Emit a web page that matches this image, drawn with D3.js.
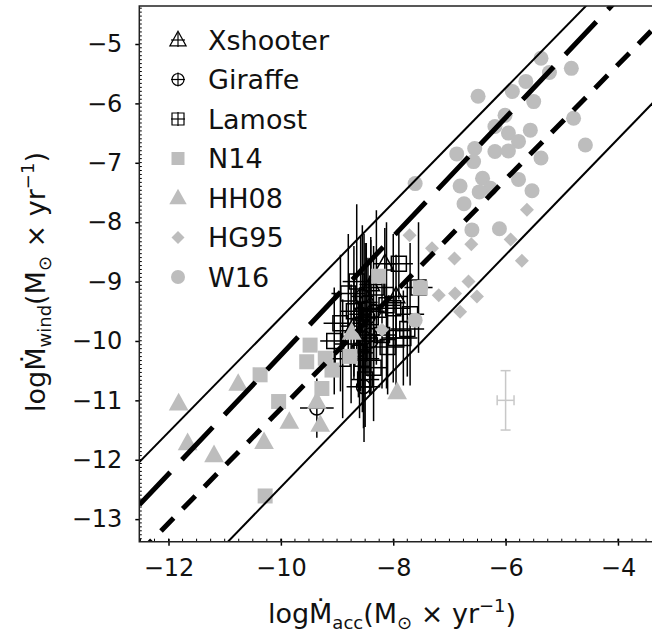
<!DOCTYPE html>
<html>
<head>
<meta charset="utf-8">
<script src="https://cdn.jsdelivr.net/npm/d3@7"></script>
<style>
  body { margin: 0; background: #fff; }
  svg { display: block; font-family: "DejaVu Sans", sans-serif; }
</style>
</head>
<body>
<svg id="chart" width="652" height="637"></svg>
<script>
// ---- data ----
const xTicks = [-12, -10, -8, -6, -4];
const yTicks = [-13, -12, -11, -10, -9, -8, -7, -6, -5];

// W16 (grey circles)
const w16X = [-5.37,-5.22,-4.83,-5.64,-5.88,-5.50,-6.49,-6.01,-6.19,-5.95,-5.56,-5.77,-6.19,-5.95,-6.55,-6.57,-6.87,-4.58,-4.79,-5.37,-6.41,-6.81,-6.27,-6.47,-5.77,-5.53,-6.74,-7.61,-6.60,-6.11,-7.51,-7.61];
const w16Y = [-5.24,-5.48,-5.41,-5.63,-5.80,-5.97,-5.88,-6.20,-6.39,-6.50,-6.45,-6.64,-6.81,-6.80,-6.76,-6.98,-6.85,-6.70,-6.25,-6.92,-7.26,-7.39,-7.43,-7.49,-7.28,-7.47,-7.69,-7.35,-8.13,-8.11,-9.09,-9.65];

// HG95 (grey diamonds)
const hg95X = [-5.62,-5.91,-5.71,-6.61,-6.91,-7.71,-7.31,-6.66,-6.90,-7.19,-6.51,-6.81,-8.20];
const hg95Y = [-7.79,-8.29,-8.65,-8.37,-8.61,-8.22,-8.44,-9.00,-9.20,-9.23,-9.25,-9.51,-9.81];

// HH08 (grey triangles)
const hh08X = [-11.82,-11.66,-11.19,-10.76,-10.30,-9.85,-9.36,-9.30,-8.74,-7.93];
const hh08Y = [-11.05,-11.72,-11.92,-10.72,-11.70,-11.36,-11.02,-11.41,-9.86,-10.86];

// N14 (grey squares)
const n14X = [-10.28,-10.04,-10.37,-9.48,-9.54,-9.21,-9.09,-8.77,-9.27,-8.26,-7.52];
const n14Y = [-12.61,-11.02,-10.57,-10.07,-10.35,-10.29,-10.49,-10.26,-10.80,-8.91,-9.11];

// Lamost (open squares with error bars)
const lamX    = [-7.90,-7.55,-7.75,-7.82,-8.94,-9.05,-8.55,-8.50,-8.00,-8.12,-8.30,-8.70,-8.75,-8.20,-8.10,-8.35,-8.90,-8.65,-7.95,-8.40,-8.60,-8.80,-7.70];
const lamY    = [-8.70,-9.10,-9.80,-9.95,-9.70,-10.00,-10.30,-10.65,-9.45,-9.40,-9.10,-9.50,-10.05,-9.90,-10.10,-10.45,-10.30,-9.00,-9.95,-9.60,-10.20,-9.20,-9.55];
const lamXErr = [0.25,0.25,0.30,0.25,0.30,0.25,0.30,0.25,0.30,0.25,0.30,0.25,0.30,0.25,0.30,0.25,0.30,0.25,0.25,0.30,0.25,0.30,0.25];
const lamYErr = [0.60,1.10,0.80,0.80,1.15,0.90,0.90,0.80,1.25,1.40,1.30,1.10,1.00,0.90,0.80,0.90,1.00,1.30,0.80,1.30,1.10,1.00,1.20];

// Giraffe (open circles with error bars)
const girX    = [-9.36,-8.53,-8.55,-8.50,-8.45,-8.52,-8.42,-8.58,-8.48,-8.40,-8.62,-8.35];
const girY    = [-11.13,-10.77,-9.25,-9.45,-9.60,-9.95,-9.90,-9.55,-9.35,-10.00,-10.15,-9.50];
const girXErr = [0.30,0.30,0.20,0.20,0.20,0.25,0.20,0.20,0.20,0.25,0.20,0.20];
const girYErr = [0.50,0.70,1.20,1.10,1.00,1.75,1.00,1.30,1.00,0.90,0.80,1.10];

// Xshooter (open triangles with error bars)
const xshX    = [-8.15,-8.40,-8.70,-7.95];
const xshY    = [-8.70,-9.05,-9.75,-9.25];
const xshXErr = [0.20,0.20,0.25,0.20];
const xshYErr = [0.60,0.80,0.90,0.70];

// typical error bar (grey)
const typX = [-6.0], typY = [-11.0], typXErr = [0.15], typYErr = [0.5];

// relations  y = a*x + b
const lineA = [0.966, 1.0, 0.965, 0.977];
const lineB = [0.055, -0.24, -1.49, -2.69];
const lineDash = ["", "45,17", "18,13", ""];
const lineW = [2, 5, 5, 2];

const legendNames = ["Xshooter", "Giraffe", "Lamost", "N14", "HH08", "HG95", "W16"];

// ---- layout ----
const grey = "#bdbdbd";
const svg = d3.select("#chart");
const L = 139.3, R = 652.8, T = 6, B = 541.7;

const x = d3.scaleLinear().domain([-12.52, -3.38]).range([L, R]);
const y = d3.scaleLinear().domain([-13.38, -4.36]).range([B, T]);

svg.append("clipPath").attr("id", "clip")
  .append("rect").attr("x", L).attr("y", T).attr("width", R - L).attr("height", B - T);

const plot = svg.append("g").attr("clip-path", "url(#clip)");

function zip(xs, ys, xe, ye) {
  return xs.map((v, i) => ({x: v, y: ys[i], xe: xe ? xe[i] : 0, ye: ye ? ye[i] : 0}));
}

// symbols
const triPath = s => `M0,${-s*0.62}L${s*0.58},${s*0.42}L${-s*0.58},${s*0.42}Z`;
const sqPath = s => `M${-s/2},${-s/2}h${s}v${s}h${-s}Z`;
const diaPath = s => `M0,${-s/2}L${s/2},0L0,${s/2}L${-s/2},0Z`;

// black points with error bars
function errPoints(data, shape) {
  const g = plot.append("g");
  const pts = g.selectAll("g").data(data).enter().append("g");
  pts.append("line")
    .attr("x1", d => x(d.x)).attr("x2", d => x(d.x))
    .attr("y1", d => y(d.y - d.ye)).attr("y2", d => y(d.y + d.ye))
    .attr("stroke", "#000").attr("stroke-width", 1.5);
  pts.append("line")
    .attr("x1", d => x(d.x - d.xe)).attr("x2", d => x(d.x + d.xe))
    .attr("y1", d => y(d.y)).attr("y2", d => y(d.y))
    .attr("stroke", "#000").attr("stroke-width", 1.5);
  if (shape === "circle") {
    pts.append("circle").attr("cx", d => x(d.x)).attr("cy", d => y(d.y)).attr("r", 7)
      .attr("fill", "none").attr("stroke", "#000").attr("stroke-width", 1.5);
  } else {
    pts.append("path").attr("transform", d => `translate(${x(d.x)},${y(d.y)})`)
      .attr("d", shape === "square" ? sqPath(15) : triPath(15))
      .attr("fill", "none").attr("stroke", "#000").attr("stroke-width", 1.5);
  }
}
errPoints(zip(lamX, lamY, lamXErr, lamYErr), "square");
errPoints(zip(girX, girY, girXErr, girYErr), "circle");
errPoints(zip(xshX, xshY, xshXErr, xshYErr), "triangle");

// grey markers
plot.append("g").selectAll("circle").data(zip(w16X, w16Y)).enter().append("circle")
  .attr("cx", d => x(d.x)).attr("cy", d => y(d.y)).attr("r", 7.5).attr("fill", grey);
plot.append("g").selectAll("path").data(zip(hg95X, hg95Y)).enter().append("path")
  .attr("transform", d => `translate(${x(d.x)},${y(d.y)})`).attr("d", diaPath(14)).attr("fill", grey);
plot.append("g").selectAll("path").data(zip(hh08X, hh08Y)).enter().append("path")
  .attr("transform", d => `translate(${x(d.x)},${y(d.y)})`).attr("d", triPath(17)).attr("fill", grey);
plot.append("g").selectAll("path").data(zip(n14X, n14Y)).enter().append("path")
  .attr("transform", d => `translate(${x(d.x)},${y(d.y)})`).attr("d", sqPath(15)).attr("fill", grey);

// typical error bar
const typ = zip(typX, typY, typXErr, typYErr)[0];
const tg = plot.append("g").attr("stroke", "#c8c8c8").attr("stroke-width", 1.5);
tg.append("line").attr("x1", x(typ.x)).attr("x2", x(typ.x)).attr("y1", y(typ.y - typ.ye)).attr("y2", y(typ.y + typ.ye));
tg.append("line").attr("x1", x(typ.x - typ.xe)).attr("x2", x(typ.x + typ.xe)).attr("y1", y(typ.y)).attr("y2", y(typ.y));
[typ.y - typ.ye, typ.y + typ.ye].forEach(v =>
  tg.append("line").attr("x1", x(typ.x) - 5).attr("x2", x(typ.x) + 5).attr("y1", y(v)).attr("y2", y(v)));
[typ.x - typ.xe, typ.x + typ.xe].forEach(v =>
  tg.append("line").attr("x1", x(v)).attr("x2", x(v)).attr("y1", y(typ.y) - 5).attr("y2", y(typ.y) + 5));

// relation lines
const xs = x.domain();
plot.append("g").selectAll("line").data(lineA).enter().append("line")
  .attr("x1", x(xs[0])).attr("x2", x(xs[1]))
  .attr("y1", (a, i) => y(a * xs[0] + lineB[i]))
  .attr("y2", (a, i) => y(a * xs[1] + lineB[i]))
  .attr("stroke", "#000")
  .attr("stroke-width", (a, i) => lineW[i])
  .attr("stroke-dasharray", (a, i) => lineDash[i] || null);

// ---- axes ----
const xMinor = d3.range(-12.5, -3.3, 0.25);
const yMinor = d3.range(-13.33, -4.36, 1 / 15);

svg.append("g").selectAll("line").data(xMinor).enter().append("line")
  .attr("x1", d => x(d)).attr("x2", d => x(d)).attr("y1", B).attr("y2", B - 3)
  .attr("stroke", "#000").attr("stroke-width", 1);
svg.append("g").selectAll("line").data(yMinor).enter().append("line")
  .attr("x1", L).attr("x2", L + 2.5).attr("y1", d => y(d)).attr("y2", d => y(d))
  .attr("stroke", "#000").attr("stroke-width", 1);

const fmt = d => d3.format("d")(d).replace("-", "\u2212");

const xAxis = svg.append("g").attr("transform", `translate(0,${B})`)
  .call(d3.axisBottom(x).tickValues(xTicks).tickSize(4).tickPadding(13).tickFormat(fmt));
xAxis.select(".domain").remove();
xAxis.selectAll(".tick line").attr("y1", -3).attr("stroke-width", 1.5);
xAxis.selectAll("text").attr("font-size", 24).attr("font-family", "DejaVu Sans").attr("fill", "#111");

const yAxis = svg.append("g").attr("transform", `translate(${L},0)`)
  .call(d3.axisLeft(y).tickValues(yTicks).tickSize(4).tickPadding(13).tickFormat(fmt));
yAxis.select(".domain").remove();
yAxis.selectAll(".tick line").attr("stroke-width", 1.5);
yAxis.selectAll("text").attr("font-size", 24).attr("font-family", "DejaVu Sans").attr("fill", "#111");

// frame (left, bottom, top)
svg.append("path").attr("d", `M${R},${T}H${L}V${B}H${R}`)
  .attr("fill", "none").attr("stroke", "#222").attr("stroke-width", 1.5);

// axis titles
function title(sel, sub) {
  sel.append("tspan").text("log\u1E40");
  sel.append("tspan").text(sub).attr("font-size", 18).attr("dy", 6);
  sel.append("tspan").text("(M").attr("dy", -6);
  sel.append("tspan").text("\u2299").attr("font-size", 18).attr("dy", 6);
  sel.append("tspan").text(" \u00D7 yr").attr("dy", -6);
  sel.append("tspan").text("\u22121").attr("font-size", 18).attr("dy", -11);
  sel.append("tspan").text(")").attr("dy", 11);
}
title(svg.append("text").attr("x", 392).attr("y", 623).attr("text-anchor", "middle")
  .attr("font-size", 27).attr("fill", "#111"), "acc");
title(svg.append("text").attr("transform", "translate(45,282) rotate(-90)")
  .attr("text-anchor", "middle").attr("font-size", 27).attr("fill", "#111"), "wind");

// ---- legend ----
const leg = svg.append("g");
const rows = leg.selectAll("g").data(legendNames).enter().append("g")
  .attr("transform", (d, i) => `translate(178,${40 + i * 39.5})`);
rows.append("text").attr("x", 30).attr("y", 9.5).attr("font-size", 27).attr("fill", "#111").text(d => d);
rows.each(function(d, i) {
  const g = d3.select(this);
  if (i < 3) {
    g.append("line").attr("x1", 0).attr("x2", 0).attr("y1", -7).attr("y2", 7).attr("stroke", "#000").attr("stroke-width", 1.2);
    g.append("line").attr("x1", -7).attr("x2", 7).attr("y1", 0).attr("y2", 0).attr("stroke", "#000").attr("stroke-width", 1.2);
  }
  if (i === 0) g.append("path").attr("d", triPath(14)).attr("fill", "none").attr("stroke", "#000").attr("stroke-width", 1.2);
  if (i === 1) g.append("circle").attr("r", 6).attr("fill", "none").attr("stroke", "#000").attr("stroke-width", 1.2);
  if (i === 2) g.append("path").attr("d", sqPath(12)).attr("fill", "none").attr("stroke", "#000").attr("stroke-width", 1.2);
  if (i === 3) g.append("path").attr("d", sqPath(13)).attr("fill", grey);
  if (i === 4) g.append("path").attr("d", triPath(15)).attr("fill", grey);
  if (i === 5) g.append("path").attr("d", diaPath(13)).attr("fill", grey);
  if (i === 6) g.append("circle").attr("r", 7).attr("fill", grey);
});
</script>
</body>
</html>
